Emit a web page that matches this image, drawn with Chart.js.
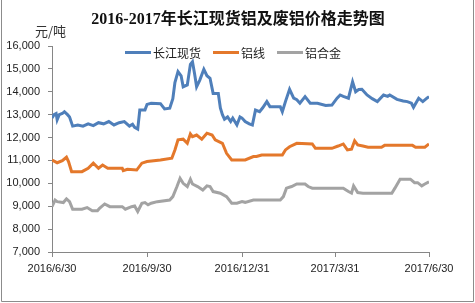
<!DOCTYPE html>
<html>
<head>
<meta charset="utf-8">
<script src="https://cdn.jsdelivr.net/npm/chart.js@4"></script>
<style>
  body { margin: 0; background: #fff; }
  #wrap { width: 475px; height: 303px; }
</style>
</head>
<body>
<div id="wrap"><canvas id="canvas"></canvas></div>
<script>
// x = days since 2016/6/30
const tickDays = [0, 92, 184, 274, 365];
const tickLabels = ["2016/6/30", "2016/9/30", "2016/12/31", "2017/3/31", "2017/6/30"];

const spotDays = [0, 2, 4, 5, 7, 10, 12, 15, 17, 20, 25, 30, 35, 40, 45, 50, 55, 60, 65, 70, 75, 78, 80, 83, 85, 90, 92, 96, 105, 109, 114, 117, 119, 122, 125, 127, 131, 134, 136, 138, 140, 143, 147, 150, 153, 156, 161, 163, 165, 167, 170, 173, 175, 177, 179, 182, 184, 187, 191, 194, 197, 201, 204, 208, 211, 221, 223, 226, 230, 234, 237, 240, 245, 250, 257, 265, 271, 276, 279, 282, 287, 291, 294, 297, 300, 305, 310, 315, 321, 325, 327, 334, 340, 344, 348, 350, 355, 359, 363, 365];
const spotPrices = [12850, 13000, 13050, 12780, 13000, 13050, 13130, 13000, 12900, 12500, 12550, 12500, 12600, 12520, 12650, 12600, 12700, 12550, 12650, 12700, 12500, 12580, 12450, 12370, 13200, 13200, 13450, 13500, 13480, 13250, 13280, 13700, 14400, 14880, 14700, 14220, 14300, 15200, 15310, 14800, 14220, 14500, 14980, 14700, 14590, 13930, 13930, 13290, 13000, 12800, 12900, 12700, 12850, 12700, 12550, 12900, 12850, 12700, 12600, 12550, 13200, 13130, 13300, 13570, 13350, 13350, 13130, 13570, 14110, 13720, 13650, 13500, 13790, 13500, 13500, 13400, 13420, 13720, 13860, 13800, 13720, 14440, 14000, 14100, 14110, 13860, 13700, 13570, 13860, 13800, 13860, 13670, 13600, 13570, 13500, 13320, 13720, 13570, 13720, 13790];

const wireDays = [0, 3, 5, 10, 14, 16, 19, 29, 35, 40, 45, 49, 54, 68, 69, 73, 82, 87, 92, 105, 116, 119, 122, 127, 131, 134, 136, 140, 145, 150, 155, 158, 165, 169, 174, 182, 187, 195, 198, 203, 223, 226, 230, 237, 252, 255, 271, 277, 282, 286, 290, 293, 296, 301, 306, 319, 322, 349, 352, 361, 365];
const wirePrices = [11020, 10950, 10900, 10990, 11140, 10950, 10510, 10510, 10660, 10880, 10660, 10800, 10660, 10660, 10550, 10610, 10580, 10880, 10950, 11020, 11100, 11460, 11900, 11930, 11750, 12160, 12040, 12110, 11930, 12190, 12110, 11900, 11750, 11310, 11020, 11020, 11020, 11170, 11170, 11240, 11240, 11460, 11600, 11750, 11720, 11530, 11530, 11630, 11720, 11460, 11490, 11860, 11680, 11630, 11580, 11580, 11660, 11660, 11580, 11580, 11720];

const alloyDays = [0, 3, 5, 11, 14, 17, 20, 29, 34, 39, 44, 46, 51, 56, 68, 71, 77, 80, 83, 87, 90, 93, 96, 102, 114, 117, 121, 124, 127, 131, 134, 136, 141, 146, 150, 153, 156, 163, 169, 174, 179, 184, 187, 195, 221, 224, 227, 232, 237, 245, 248, 252, 274, 282, 287, 290, 292, 296, 301, 329, 332, 337, 347, 351, 354, 358, 361, 365];
const alloyPrices = [8980, 9270, 9200, 9160, 9320, 9200, 8870, 8870, 8940, 8800, 8800, 8910, 9100, 8980, 8980, 8870, 8980, 9010, 8770, 9130, 9160, 9060, 9130, 9200, 9270, 9420, 9860, 10220, 10000, 9860, 10180, 9970, 9860, 9710, 9890, 9860, 9640, 9570, 9420, 9130, 9130, 9200, 9170, 9270, 9270, 9420, 9790, 9860, 9970, 9970, 9860, 9790, 9790, 9790, 9640, 9570, 9890, 9600, 9570, 9570, 9790, 10180, 10180, 10030, 10030, 9890, 9970, 10070];

const chartTitle = "2016-2017年长江现货铝及废铝价格走势图";
const unitLabel = "元/吨";

const pairs = (xs, ys) => xs.map((x, i) => ({ x: x, y: ys[i] }));

// frame, title, unit label and the in-plot legend row (Excel style)
const extras = {
  id: "extras",
  afterDraw: (chart) => {
    const ctx = chart.ctx;
    ctx.save();
    ctx.strokeStyle = "#8c8c8c";
    ctx.lineWidth = 1;
    ctx.beginPath();
    ctx.moveTo(1.5, 0);
    ctx.lineTo(1.5, 301.5);
    ctx.lineTo(473.5, 301.5);
    ctx.lineTo(473.5, 0);
    ctx.stroke();

    ctx.textBaseline = "middle";
    ctx.fillStyle = "#111";
    ctx.textAlign = "center";
    ctx.font = "bold 16px 'Liberation Serif', 'Noto Sans CJK SC'";
    ctx.fillText(chartTitle, 238, 20);

    ctx.textAlign = "left";
    ctx.fillStyle = "#333";
    ctx.font = "13px 'Noto Sans CJK SC'";
    ctx.fillText(unitLabel, 35, 31);

    const legendX = [125, 213, 277];
    ctx.font = "12px 'Noto Sans CJK SC'";
    chart.data.datasets.forEach((ds, i) => {
      const x = legendX[i];
      ctx.strokeStyle = ds.borderColor;
      ctx.lineWidth = 3;
      ctx.beginPath();
      ctx.moveTo(x, 52.5);
      ctx.lineTo(x + 26, 52.5);
      ctx.stroke();
      ctx.fillStyle = "#222";
      ctx.fillText(ds.label, x + 28, 53);
    });
    ctx.restore();
  },
};

const line = (label, data, color) => ({
  label: label,
  data: data,
  borderColor: color,
  backgroundColor: color,
  borderWidth: 3,
  pointRadius: 0,
  tension: 0,
});

const canvas = document.getElementById("canvas");
new Chart(canvas, {
  type: "line",
  data: {
    datasets: [
      line("长江现货", pairs(spotDays, spotPrices), "#4f7fba"),
      line("铝线", pairs(wireDays, wirePrices), "#e4782b"),
      line("铝合金", pairs(alloyDays, alloyPrices), "#a3a3a3"),
    ],
  },
  options: {
    responsive: true,
    maintainAspectRatio: false,
    animation: false,
    layout: { padding: { left: 0, right: 46, top: 46, bottom: 0 } },
    plugins: {
      legend: { display: false },
      tooltip: { enabled: false },
    },
    scales: {
      x: {
        type: "linear",
        min: 0,
        max: 365,
        afterBuildTicks: (scale) => {
          scale.ticks = tickDays.map((v) => ({ value: v }));
        },
        afterFit: (scale) => {
          scale.height = 51;
        },
        ticks: {
          autoSkip: false,
          maxRotation: 0,
          padding: 5,
          color: "#222",
          font: { family: "'Liberation Sans'", size: 11 },
          callback: (v) => tickLabels[tickDays.indexOf(v)],
        },
        grid: { drawOnChartArea: false, drawTicks: true, tickLength: 5, color: "#868686" },
        border: { color: "#868686" },
      },
      y: {
        min: 7000,
        max: 16000,
        afterFit: (scale) => {
          scale.width = 52;
        },
        ticks: {
          stepSize: 1000,
          padding: 8,
          color: "#222",
          font: { family: "'Liberation Sans'", size: 11 },
        },
        grid: { drawOnChartArea: false, drawTicks: true, tickLength: 4, color: "#868686" },
        border: { color: "#868686" },
      },
    },
  },
  plugins: [extras],
});
</script>
</body>
</html>
